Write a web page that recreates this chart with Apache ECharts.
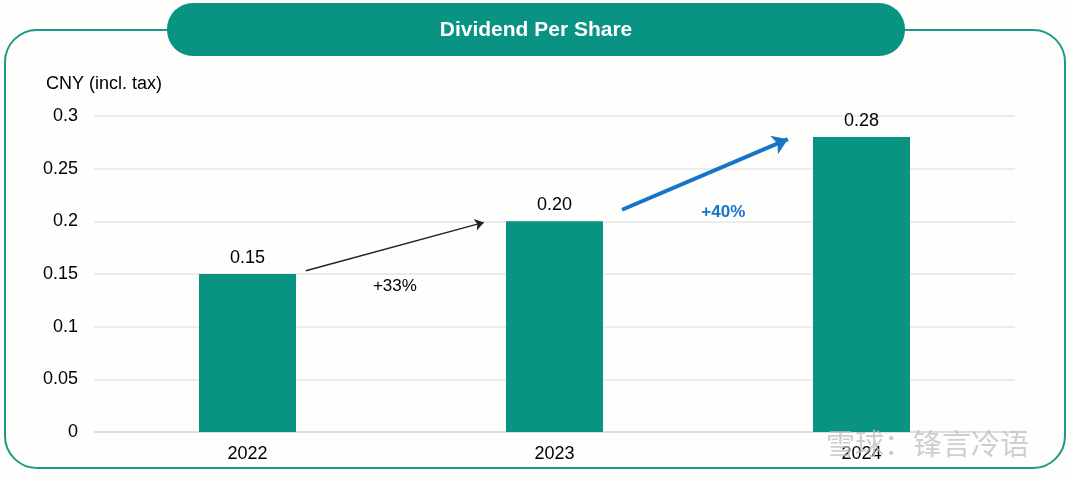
<!DOCTYPE html>
<html><head><meta charset="utf-8">
<script src="https://cdn.jsdelivr.net/npm/echarts@6/dist/echarts.min.js"></script>
<style>html,body{margin:0;padding:0;background:#fff;}#c{width:1070px;height:477px;}</style>
</head><body><div id="c"></div>
<script>
var categories = ['2022', '2023', '2024'];
var dps = [0.15, 0.20, 0.28];
var yTicks = [0, 0.05, 0.1, 0.15, 0.2, 0.25, 0.3];
var growthLabels = ['+33%', '+40%'];
// arrows in data units: x = category position (0,1,2), y = value
var arrowBlack = [[0.19, 0.153], [0.77, 0.199]];
var arrowBlue = [[1.22, 0.211], [1.76, 0.278]];
var growthPos = [[0.48, 0.138], [1.55, 0.209]];

var chart = echarts.init(document.getElementById('c'));
var font = 'Liberation Sans, Arial, sans-serif';
var teal = '#089383';
chart.setOption({
  backgroundColor: '#fefefc',
  animation: false,
  grid: {left: 94, right: 55, top: 116, bottom: 45},
  xAxis: [{
    type: 'category', data: categories,
    axisLine: {lineStyle: {color: '#d9d9d9', width: 1.5}},
    axisTick: {show: false},
    axisLabel: {color: '#000', fontSize: 18, fontFamily: font, margin: 13}
  }, {
    type: 'value', min: -0.5, max: 2.5, show: false
  }],
  yAxis: {
    type: 'value', min: 0, max: 0.3, interval: 0.05,
    axisLine: {show: false}, axisTick: {show: false},
    splitLine: {lineStyle: {color: '#e6e6e6', width: 1.5}},
    axisLabel: {color: '#000', fontSize: 18, fontFamily: font, margin: 16,
      formatter: function (v) { var t = yTicks.find(function (x) { return Math.abs(x - v) < 1e-9; }); return t === undefined ? '' : String(t); }}
  },
  graphic: [
    {type: 'rect', shape: {x: 5, y: 30, width: 1060, height: 438, r: 32}, style: {fill: 'none', stroke: '#1a9a8a', lineWidth: 2}, z: -1},
    {type: 'rect', shape: {x: 167, y: 3, width: 738, height: 53, r: 26}, style: {fill: teal}, z: 10},
    {type: 'text', x: 536, y: 30, style: {text: 'Dividend Per Share', fill: '#fff', font: 'bold 21px ' + font, align: 'center', verticalAlign: 'middle'}, z: 11},
    {type: 'text', x: 46, y: 84, style: {text: 'CNY (incl. tax)', fill: '#000', font: '18px ' + font, align: 'left', verticalAlign: 'middle'}},
    {type: 'text', x: 826, y: 444, style: {text: '雪球：锋言冷语', fill: 'rgba(190,190,190,0.75)', font: '29px Noto Sans CJK SC', align: 'left', verticalAlign: 'middle'}, z: 20}
  ],
  series: [{
    type: 'bar', data: dps, barWidth: 97,
    itemStyle: {color: teal},
    label: {show: true, position: 'top', distance: 7, color: '#000', fontSize: 18, fontFamily: font,
      formatter: function (p) { return p.value.toFixed(2); }}
  }, {
    type: 'lines', coordinateSystem: 'cartesian2d', xAxisIndex: 1,
    symbol: ['none', 'arrow'], symbolSize: 9,
    lineStyle: {color: '#222', width: 1.5, opacity: 1},
    data: [{coords: arrowBlack}]
  }, {
    type: 'lines', coordinateSystem: 'cartesian2d', xAxisIndex: 1,
    symbol: ['none', 'arrow'], symbolSize: 15,
    lineStyle: {color: '#1576c9', width: 4, opacity: 1},
    data: [{coords: arrowBlue}]
  }, {
    type: 'scatter', xAxisIndex: 1, symbolSize: 0,
    itemStyle: {opacity: 1},
    data: [
      {value: growthPos[0], label: {show: true, formatter: growthLabels[0], color: '#000', fontSize: 17, fontFamily: font}},
      {value: growthPos[1], label: {show: true, formatter: growthLabels[1], color: '#1576c9', fontWeight: 'bold', fontSize: 17, fontFamily: font}}
    ],
    label: {position: 'inside'}
  }]
});
</script></body></html>
